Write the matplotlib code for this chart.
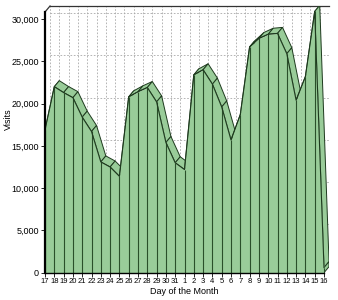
import matplotlib
matplotlib.use('Agg')
import matplotlib.pyplot as plt
import numpy as np

days = ['17', '18', '19', '20', '21', '22', '23', '24', '25', '26', '27', '28', '29', '30', '31',
        '1', '2', '3', '4', '5', '6', '7', '8', '9', '10', '11', '12', '13', '14', '15', '16']
visits = [16900, 22000, 21300, 20700, 18400, 16700, 13100, 12500, 11400, 20800, 21400,
          21900, 20200, 15400, 13000, 12200, 23400, 24000, 22300, 19600, 15700, 18700,
          26700, 27700, 28200, 28300, 25900, 20400, 23200, 30900, 600]
yticks = [0, 5000, 10000, 15000, 20000, 25000, 30000]

plt.rcParams['font.family'] = ['Liberation Sans', 'DejaVu Sans']

green = '#99cc99'
dark = '#1e3a1e'
gridc = '#a8a8a8'

x = np.arange(len(days))
v = np.array(visits)
n = len(days) - 1

# 3d depth offset (data units)
dx, dy = 0.54, 710
top = 31540

fig = plt.figure(figsize=(3.38, 3.0), dpi=100)
ax = fig.add_axes([45 / 338, (300 - 272.7) / 300, (n + dx) * 9.3 / 338, 266.7 / 300])
ax.set_xlim(0, n + dx)
ax.set_ylim(0, top)

# back wall grid
ax.vlines(x + dx, dy, top, colors=gridc, linestyles=(0, (2, 2)), lw=0.6, zorder=1)
ax.hlines(np.array(yticks[1:]) + dy, dx, n + dx, colors=gridc, linestyles=(0, (2, 2)), lw=0.6, zorder=1)
ax.plot([n + dx, n + dx], [dy, top], color=gridc, ls=(0, (2, 2)), lw=0.6, zorder=1)
ax.plot([dx, n + dx], [top, top], color='#333333', lw=0.9, zorder=1, clip_on=False)
ax.plot([0, dx], [top - dy, top], color='#333333', lw=0.9, zorder=1, clip_on=False)

# ribbon on top of the area
for i in range(n):
    qx = [x[i], x[i + 1], x[i + 1] + dx, x[i] + dx]
    qy = [v[i], v[i + 1], v[i + 1] + dy, v[i] + dy]
    ax.fill(qx, qy, facecolor=green, edgecolor=dark, lw=0.7, zorder=2)
# right side face
ax.fill([x[n], x[n], x[n] + dx, x[n] + dx], [0, v[n], v[n] + dy, dy],
        facecolor=green, edgecolor=dark, lw=0.7, zorder=2)

# front face
ax.fill_between(x, 0, v, color=green, lw=0, zorder=3)
ax.vlines(x, 0, v, colors='#2a4f2a', lw=0.8, zorder=4)
ax.plot(x, v, color=dark, lw=0.8, zorder=4)

for s in ['top', 'right']:
    ax.spines[s].set_visible(False)
ax.spines['left'].set_bounds(0, top - dy)
ax.spines['left'].set_linewidth(1.6)
ax.spines['left'].set_zorder(5)
ax.spines['bottom'].set_bounds(0, n)
ax.spines['bottom'].set_linewidth(1.0)
ax.spines['bottom'].set_zorder(5)

ax.set_xticks(x)
ax.set_xticklabels(days, fontsize=5.5)
ax.set_yticks(yticks)
ax.set_yticklabels(['{:,}'.format(t) for t in yticks], fontsize=6.5)
ax.tick_params(axis='x', length=3, pad=1, width=0.6)
ax.tick_params(axis='y', length=3, pad=1.5, width=0.6)

fig.text(8 / 338, 1 - 119 / 300, 'Visits', rotation=90, fontsize=6.5, ha='center', va='center')
fig.text(184 / 338, 1 - 291.5 / 300, 'Day of the Month', fontsize=6.5, ha='center', va='center')

fig.savefig('out.png', dpi=100)
